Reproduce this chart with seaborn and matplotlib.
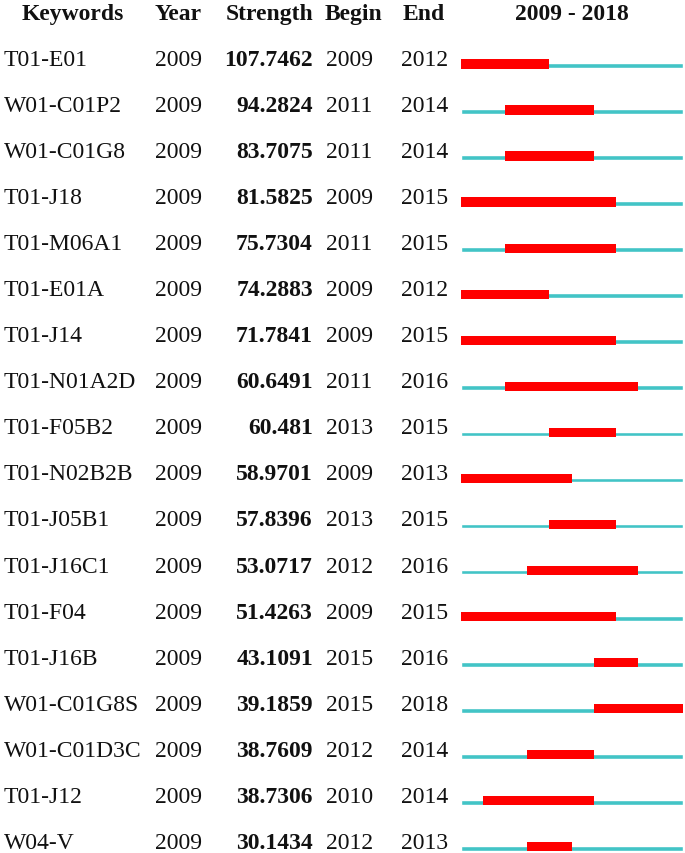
import matplotlib
matplotlib.use("Agg")
import matplotlib.pyplot as plt
import seaborn as sns
import pandas as pd

keywords = ["T01-E01", "W01-C01P2", "W01-C01G8", "T01-J18", "T01-M06A1", "T01-E01A",
            "T01-J14", "T01-N01A2D", "T01-F05B2", "T01-N02B2B", "T01-J05B1", "T01-J16C1",
            "T01-F04", "T01-J16B", "W01-C01G8S", "W01-C01D3C", "T01-J12", "W04-V"]
year = [2009] * 18
strength = [107.7462, 94.2824, 83.7075, 81.5825, 75.7304, 74.2883, 71.7841, 60.6491,
            60.481, 58.9701, 57.8396, 53.0717, 51.4263, 43.1091, 39.1859, 38.7609,
            38.7306, 30.1434]
begin = [2009, 2011, 2011, 2009, 2011, 2009, 2009, 2011, 2013, 2009, 2013, 2012,
         2009, 2015, 2015, 2012, 2010, 2012]
end = [2012, 2014, 2014, 2015, 2015, 2012, 2015, 2016, 2015, 2013, 2015, 2016,
       2015, 2016, 2018, 2014, 2014, 2013]
start_year, end_year = 2009, 2018
headers = ["Keywords", "Year", "Strength", "Begin", "End", "2009 - 2018"]

sns.set_theme(style="white")
plt.rcParams['font.family'] = ['Liberation Serif', 'DejaVu Serif']

W, H = 685, 854
fig = plt.figure(figsize=(W / 100, H / 100), dpi=100)
ax = fig.add_axes([0, 0, 1, 1])
ax.set_xlim(0, W)
ax.set_ylim(H, 0)
ax.axis("off")

row0, step = 66.0, 46.05
fs = 17
col = "#111111"

# header
hy = 20
ax.text(22, hy, headers[0], fontsize=fs, fontweight="bold", va="baseline", ha="left", color=col)
ax.text(155, hy, headers[1], fontsize=fs, fontweight="bold", va="baseline", ha="left", color=col)
ax.text(313, hy, headers[2], fontsize=fs, fontweight="bold", va="baseline", ha="right", color=col)
ax.text(325, hy, headers[3], fontsize=fs, fontweight="bold", va="baseline", ha="left", color=col)
ax.text(403, hy, headers[4], fontsize=fs, fontweight="bold", va="baseline", ha="left", color=col)
ax.text(572, hy, headers[5], fontsize=fs, fontweight="bold", va="baseline", ha="center", color=col)

for i, kw in enumerate(keywords):
    y = row0 + step * i
    ax.text(4, y, kw, fontsize=fs, va="baseline", ha="left", color=col)
    ax.text(155, y, str(year[i]), fontsize=fs, va="baseline", ha="left", color=col)
    ax.text(313, y, f"{strength[i]}", fontsize=fs, fontweight="bold", va="baseline", ha="right", color=col)
    ax.text(326, y, str(begin[i]), fontsize=fs, va="baseline", ha="left", color=col)
    ax.text(401, y, str(end[i]), fontsize=fs, va="baseline", ha="left", color=col)

# bars axis: x in years since start, y in row index
x0, x1 = 460.7, 682.5
bax = fig.add_axes([x0 / W, 0, (x1 - x0) / W, 1])
n = len(keywords)
cy0 = 66.5  # pixel centre of cyan line for row 0
df = pd.DataFrame({"kw": keywords, "span": [end_year - start_year + 1] * n})
sns.barplot(data=df, x="span", y="kw", orient="h", color="#42C4C6", width=4.8 / step,
            saturation=1, ax=bax)
red_off = -1.6 / step
bax.barh([i + red_off for i in range(n)], [e - b + 1 for b, e in zip(begin, end)],
         left=[b - start_year for b in begin], height=9.2 / step, color="#FF0000",
         edgecolor="none")
bax.set_xlim(0, end_year - start_year + 1)
bax.set_ylim((H - cy0) / step, -cy0 / step)
bax.axis("off")

fig.savefig("out.png", dpi=100)
